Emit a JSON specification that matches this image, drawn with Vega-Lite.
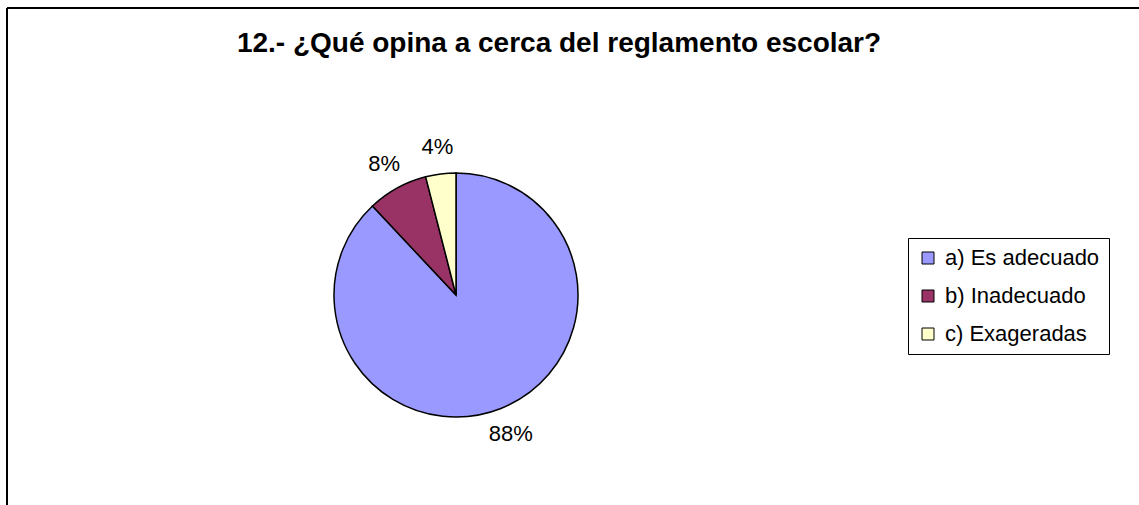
{
  "$schema": "https://vega.github.io/schema/vega-lite/v6.json",
  "width": 1200,
  "height": 560,
  "autosize": "none",
  "padding": {"left": 7, "top": 8, "right": 0, "bottom": 0},
  "background": "white",
  "config": {
    "view": {"stroke": null},
    "font": "Liberation Sans"
  },
  "title": {
    "text": "12.- ¿Qué opina a cerca del reglamento escolar?",
    "font": "Liberation Sans",
    "fontSize": 28,
    "fontWeight": "bold",
    "color": "black",
    "anchor": "middle",
    "frame": "group",
    "baseline": "middle",
    "offset": 0,
    "dx": -48,
    "dy": 65
  },
  "data": {
    "values": [
      {"respuesta": "a) Es adecuado", "porcentaje": 88, "etiqueta": "88%"},
      {"respuesta": "b) Inadecuado", "porcentaje": 8, "etiqueta": "8%"},
      {"respuesta": "c) Exageradas", "porcentaje": 4, "etiqueta": "4%"}
    ]
  },
  "layer": [
    {
      "data": {"values": [{"borde": "superior"}]},
      "mark": {"type": "rule", "color": "black", "strokeWidth": 2},
      "encoding": {
        "y": {"datum": 1, "type": "quantitative", "scale": {"domain": [0, 1]}, "axis": null}
      }
    },
    {
      "data": {"values": [{"borde": "izquierdo"}]},
      "mark": {"type": "rule", "color": "black", "strokeWidth": 2},
      "encoding": {
        "x": {"datum": 0, "type": "quantitative", "scale": {"domain": [0, 1]}, "axis": null}
      }
    },
    {
      "mark": {"type": "arc", "outerRadius": 122, "stroke": "black", "strokeWidth": 1.5, "x": 449, "y": 287},
      "encoding": {
        "theta": {"field": "porcentaje", "type": "quantitative", "stack": true},
        "order": {"field": "respuesta", "type": "nominal"},
        "color": {
          "field": "respuesta",
          "type": "nominal",
          "scale": {"domain": ["a) Es adecuado", "b) Inadecuado", "c) Exageradas"], "range": ["#9999FF", "#993366", "#FFFFCC"]},
          "legend": {
            "orient": "none",
            "legendX": 901,
            "legendY": 230,
            "title": null,
            "strokeColor": "black",
            "fillColor": "white",
            "padding": 9,
            "symbolType": "square",
            "symbolSize": 144,
            "symbolStrokeColor": "black",
            "symbolStrokeWidth": 1,
            "symbolOpacity": 1,
            "labelFontSize": 22,
            "labelFont": "Liberation Sans",
            "labelColor": "black",
            "labelOffset": 6,
            "rowPadding": 16
          }
        }
      }
    },
    {
      "mark": {"type": "text", "radius": 149, "x": 449, "y": 287, "fontSize": 22, "font": "Liberation Sans", "color": "black"},
      "encoding": {
        "theta": {"field": "porcentaje", "type": "quantitative", "stack": true},
        "order": {"field": "respuesta", "type": "nominal"},
        "text": {"field": "etiqueta", "type": "nominal"}
      }
    }
  ]
}
